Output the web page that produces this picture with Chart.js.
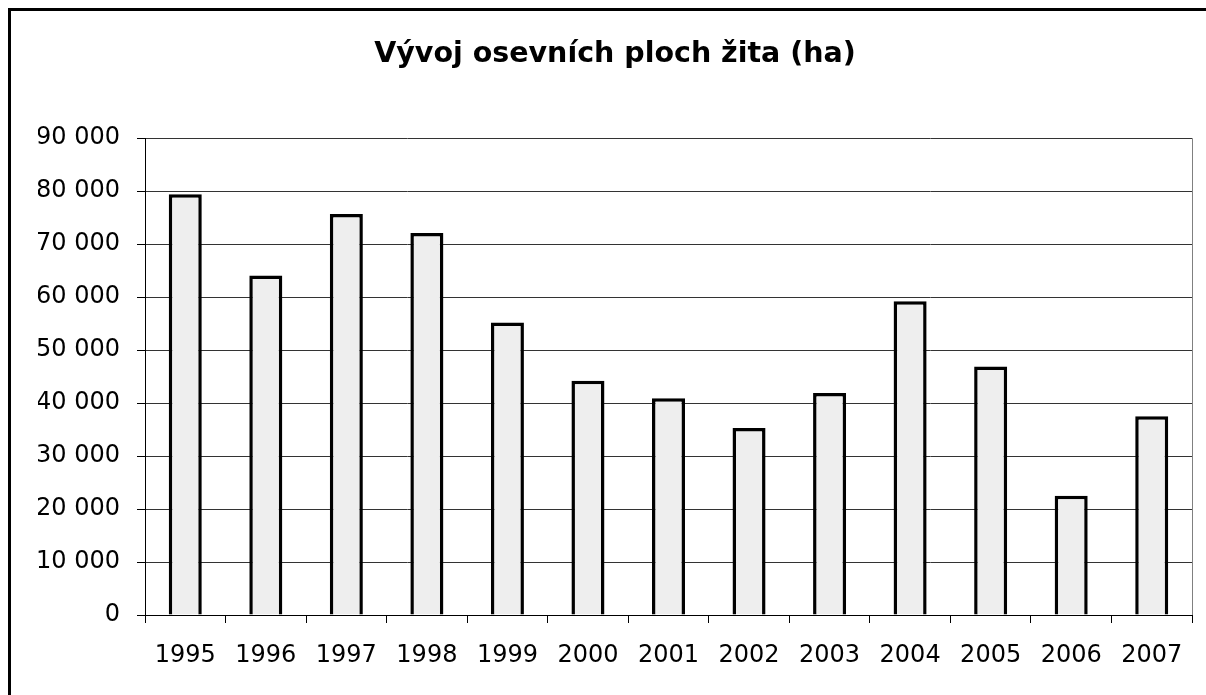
<!DOCTYPE html>
<html>
<head>
<meta charset="utf-8">
<script src="https://cdn.jsdelivr.net/npm/chart.js@4.4.1/dist/chart.umd.min.js"></script>
<style>
  html, body { margin: 0; padding: 0; background: #fff; overflow: hidden; }
  #frame { position: absolute; left: 8px; top: 8px; width: 1300px; height: 800px; border: 3px solid #000; box-sizing: border-box; }
  #wrap { position: absolute; left: 0; top: 0; width: 1206px; height: 695px; }
</style>
</head>
<body>
<div id="frame"></div>
<div id="wrap"><canvas id="c"></canvas></div>
<script>
const chartTitle = 'Vývoj osevních ploch žita (ha)';
const years = ['1995','1996','1997','1998','1999','2000','2001','2002','2003','2004','2005','2006','2007'];
const areaHa = [79400, 64100, 75700, 72100, 55200, 44200, 40900, 35300, 41900, 59200, 46900, 22500, 37500];
const yMin = 0;
const yMax = 90000;
const yStep = 10000;

function fmt(v) { return String(v).replace(/\B(?=(\d{3})+(?!\d))/g, ' '); }

new Chart(document.getElementById('c'), {
  type: 'bar',
  data: {
    labels: years,
    datasets: [{
      data: areaHa,
      backgroundColor: '#eeeeee',
      borderColor: '#000000',
      borderWidth: 3.5,
      barPercentage: 0.41,
      categoryPercentage: 1.0
    }]
  },
  options: {
    responsive: true,
    maintainAspectRatio: false,
    animation: false,
    layout: { padding: { left: 38, right: 14, top: 0, bottom: 0 } },
    plugins: {
      legend: { display: false },
      tooltip: { enabled: false },
      title: {
        display: true,
        text: chartTitle,
        color: '#000',
        font: { family: 'DejaVu Sans', size: 28.5, weight: 'bold', lineHeight: 1.2 },
        padding: { top: 37, bottom: 67 }
      }
    },
    scales: {
      x: {
        afterFit: (s) => { s.height = 80; },
        grid: {
          offset: true,
          drawOnChartArea: true,
          color: (ctx) => (ctx.type === 'scale' || ctx.index === undefined) ? '#808080' : 'rgba(0,0,0,0)',
          tickColor: '#000',
          tickLength: 8,
          lineWidth: 1
        },
        border: { display: true, color: '#000', width: 1 },
        ticks: {
          color: '#000',
          font: { family: 'DejaVu Sans', size: 24 },
          padding: 18,
          maxRotation: 0,
          autoSkip: false
        }
      },
      y: {
        min: yMin,
        max: yMax,
        afterFit: (s) => { s.width = 107; },
        grid: { color: '#333', tickColor: '#000', tickLength: 8, lineWidth: 1 },
        border: { display: true, color: '#000', width: 1 },
        ticks: {
          stepSize: yStep,
          color: '#000',
          font: { family: 'DejaVu Sans', size: 24 },
          padding: 17,
          callback: (v) => fmt(v)
        }
      }
    }
  }
});
</script>
</body>
</html>
